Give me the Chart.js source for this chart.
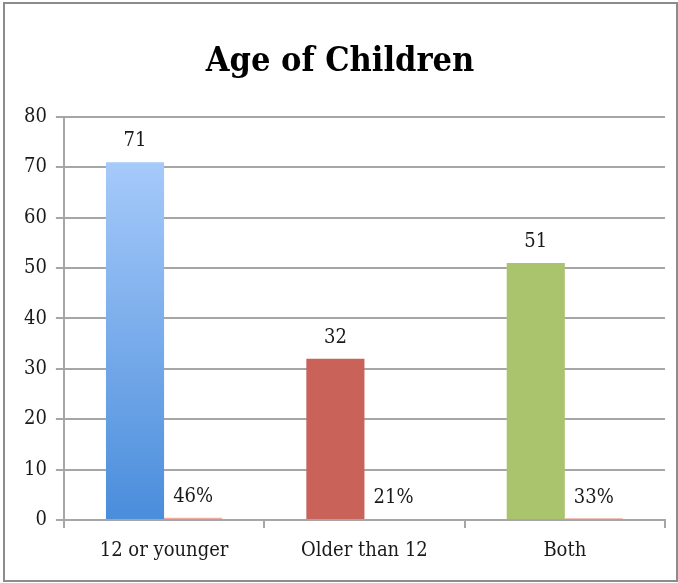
<!DOCTYPE html>
<html>
<head>
<meta charset="utf-8">
<script src="https://cdn.jsdelivr.net/npm/chart.js@4"></script>
<style>
  body { margin: 0; background: #fff; }
  #frame {
    position: absolute; left: 3px; top: 2px;
    width: 671px; height: 576px;
    border: 2px solid #8c8c8c;
  }
</style>
</head>
<body>
<div id="frame"><canvas id="ageChart" width="671" height="576"></canvas></div>
<script>
// chart data
const categories = ['12 or younger', 'Older than 12', 'Both'];
const counts = [71, 32, 51];
const shares = [0.46, 0.21, 0.33];
const yTicks = [0, 10, 20, 30, 40, 50, 60, 70, 80];

const FONT = '"DejaVu Serif Condensed", "Liberation Serif", serif';

// draws the number above each bar
const valueLabels = {
    id: 'valueLabels',
    afterDatasetsDraw(chart) {
        const c = chart.ctx;
        c.save();
        c.font = '20px ' + FONT;
        c.fillStyle = '#1a1a1a';
        c.textAlign = 'center';
        c.textBaseline = 'bottom';
        chart.data.datasets.forEach((ds, i) => {
            chart.getDatasetMeta(i).data.forEach((bar, j) => {
                const v = ds.data[j];
                const txt = i === 1 ? Math.round(v * 100) + '%' : String(v);
                c.fillText(txt, bar.x, bar.y - 11);
            });
        });
        c.restore();
    }
};

document.addEventListener('DOMContentLoaded', () => {
    const ctx = document.getElementById('ageChart');

    new Chart(ctx, {
        type: 'bar',
        data: {
            labels: categories,
            datasets: [{
                label: 'Count',
                data: counts,
                backgroundColor: (context) => {
                    const i = context.dataIndex;
                    if (i === 1) return '#c9635a';
                    if (i === 2) return '#a9c46c';
                    const chart = context.chart;
                    if (!chart.chartArea) return '#7aaeec';
                    const y = chart.scales.y;
                    const g = chart.ctx.createLinearGradient(0, y.getPixelForValue(context.raw), 0, y.getPixelForValue(0));
                    g.addColorStop(0, '#a6cafa');
                    g.addColorStop(1, '#4a8ddb');
                    return g;
                },
                barPercentage: 1,
                categoryPercentage: 0.58
            }, {
                label: 'Share',
                data: shares,
                backgroundColor: '#f2aca4',
                barPercentage: 1,
                categoryPercentage: 0.58
            }]
        },
        options: {
            responsive: false,
            animation: false,
            layout: {
                padding: { top: 10, right: 11, left: 10, bottom: 6 }
            },
            plugins: {
                legend: { display: false },
                tooltip: { enabled: false },
                title: {
                    display: true,
                    text: 'Age of Children',
                    color: '#000',
                    font: { family: FONT, size: 34, weight: 'bold' },
                    padding: { top: 28, bottom: 34 }
                }
            },
            scales: {
                y: {
                    min: 0,
                    max: 80,
                    afterBuildTicks: (axis) => {
                        axis.ticks = yTicks.map(v => ({ value: v }));
                    },
                    grid: {
                        color: '#a6a6a6',
                        lineWidth: 2,
                        tickLength: 8
                    },
                    border: { color: '#a6a6a6', width: 2 },
                    ticks: {
                        color: '#1a1a1a',
                        padding: 9,
                        font: { family: FONT, size: 20 }
                    }
                },
                x: {
                    grid: {
                        drawOnChartArea: false,
                        color: '#a6a6a6',
                        lineWidth: 2,
                        tickLength: 8
                    },
                    border: { color: '#a6a6a6', width: 2 },
                    ticks: {
                        color: '#1a1a1a',
                        padding: 11,
                        font: { family: FONT, size: 20 }
                    }
                }
            }
        },
        plugins: [valueLabels]
    });
});
</script>
</body>
</html>
